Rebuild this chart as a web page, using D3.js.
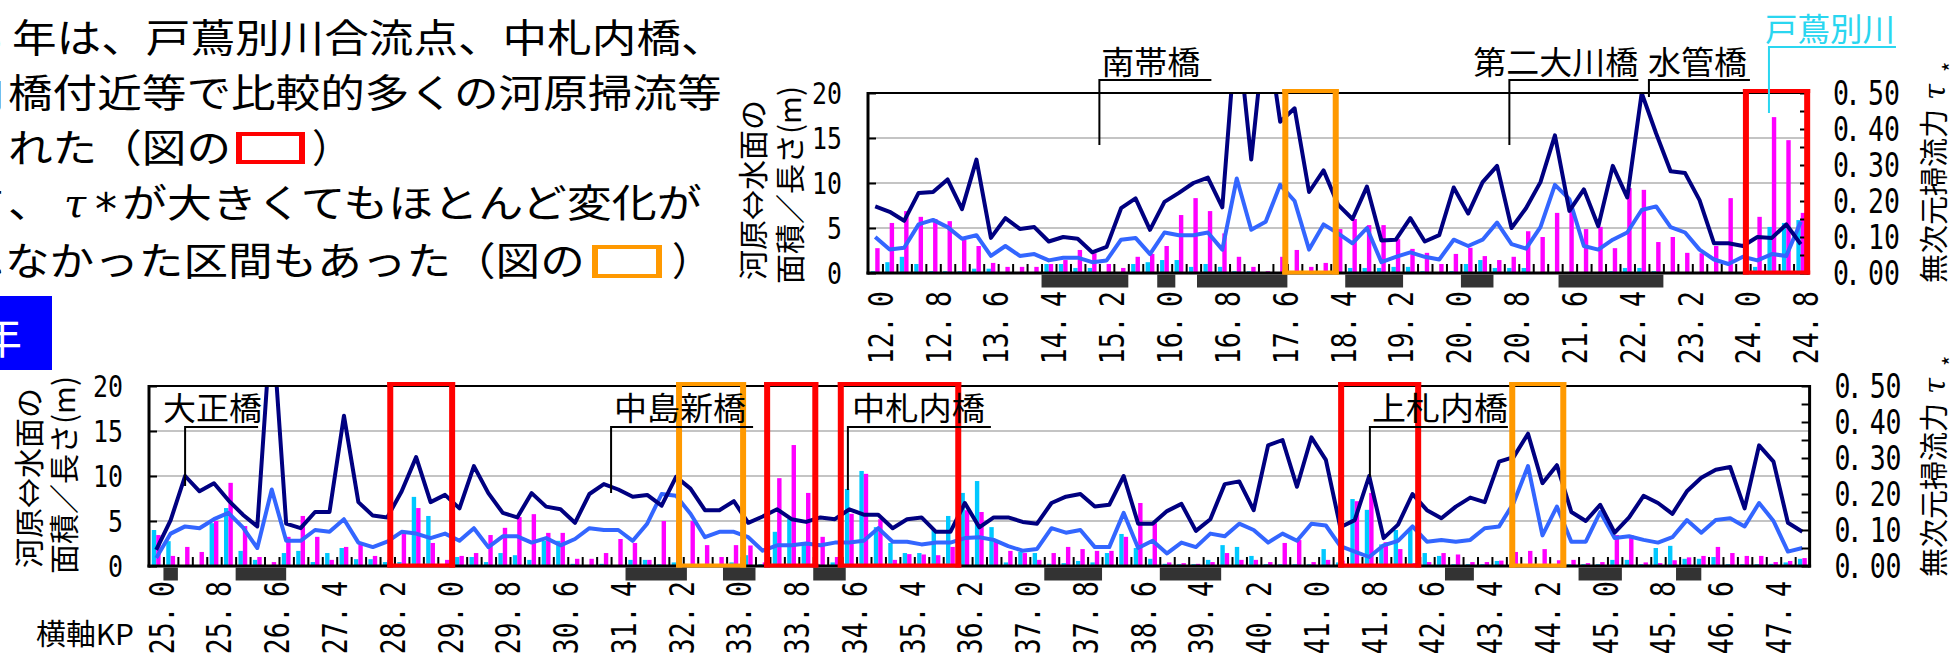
<!DOCTYPE html>
<html lang="ja">
<head>
<meta charset="utf-8">
<title>河原⇔水面の面積／長さ と 無次元掃流力</title>
<script src="https://cdn.jsdelivr.net/npm/d3@7/dist/d3.min.js"></script>
<style>
  html, body { margin: 0; padding: 0; background: #fff; overflow: hidden; }
  svg { display: block; }
</style>
</head>
<body>
<svg id="chart" width="1953" height="653"></svg>
<script>
// ---- categories (KP, 0.2 step) ----
const topKP = d3.range(65).map(i => (12 + i * 0.2).toFixed(1));
const bottomKP = d3.range(115).map(i => (25 + i * 0.2).toFixed(1));

const topTickLabels = ['12.0','12.8','13.6','14.4','15.2','16.0','16.8','17.6','18.4','19.2','20.0','20.8','21.6','22.4','23.2','24.0','24.8'];
const bottomTickLabels = ['25.0','25.8','26.6','27.4','28.2','29.0','29.8','30.6','31.4','32.2','33.0','33.8','34.6','35.4','36.2','37.0','37.8','38.6','39.4','40.2','41.0','41.8','42.6','43.4','44.2','45.0','45.8','46.6','47.4'];

const leftTicks = [0, 5, 10, 15, 20];
const leftTickLabels = ['0', '5', '10', '15', '20'];
const gridValues = [5, 10, 15];
const rightTicks = [0, 0.05, 0.1, 0.15, 0.2, 0.25, 0.3, 0.35, 0.4, 0.45, 0.5];
const rightLabelTicks = [0, 0.1, 0.2, 0.3, 0.4, 0.5];
const rightTickLabels = ['0.00', '0.10', '0.20', '0.30', '0.40', '0.50'];

// ---- upper reach (KP 12.0 - 24.8) ----
// 河原⇔水面の面積／長さ (m)
const topLineNavy = [7.4,6.8,5.8,8.9,9.0,10.4,7.1,12.6,3.9,6.1, 4.9,5.1,3.5,4.0,3.8,2.3,2.9,7.2,8.3,4.8,
  7.9,8.9,10.0,10.6,7.3,28,12.6,28,16.8,18.3, 9.0,11.4,7.6,6.0,9.6,3.6,3.7,6.1,3.5,4.2,
  9.5,6.6,10.1,11.9,5.0,7.2,10.1,15.3,6.9,9.3, 5.2,11.9,8.4,20.0,15.5,11.3,11.1,8.1,3.3,3.3,
  3.0,4.0,3.9,5.4,3.2];
const topLineBlue = [4.0,2.6,2.8,5.4,5.9,5.1,3.8,4.2,1.9,3.0, 1.9,2.1,1.4,1.7,1.7,1.2,1.4,3.7,3.9,2.1,
  4.5,4.2,4.2,4.5,2.6,10.5,4.8,5.7,9.8,8.0, 2.6,5.4,4.4,3.3,5.0,1.2,1.8,2.3,1.8,1.5,
  3.7,3.0,3.7,5.6,3.2,2.7,5.1,9.8,8.2,3.0, 2.6,3.7,4.5,7.0,7.4,5.1,4.5,2.6,1.5,1.0,
  1.8,1.4,2.1,1.9,5.7];
// 無次元掃流力 τ*
const topTauCyan = [0.005,0.03,0.045,0.025,0.005,0.005,0.005,0.012,0.012,0, 0,0,0.025,0.025,0.014,0.014,0,0,0.025,0.03,
  0.036,0.036,0.017,0.025,0.017,0.005,0.005,0,0,0, 0,0,0,0.014,0.014,0.014,0.017,0.017,0.005,0,
  0.005,0.025,0.036,0.014,0.014,0.014,0,0,0,0, 0,0.005,0.014,0.014,0.005,0,0,0,0,0,
  0,0.017,0.128,0.139,0.147];
const topTauMagenta = [0.069,0.139,0.172,0.156,0.15,0.144,0.092,0.075,0.028,0.017, 0.017,0.017,0.025,0.036,0.064,0.055,0.025,0.014,0.045,0.053,
  0.075,0.161,0.208,0.172,0.11,0.045,0.017,0.005,0.045,0.064, 0.017,0.028,0.122,0.15,0.133,0.133,0.094,0.067,0.056,0.025,
  0.053,0.07,0.047,0.036,0.045,0.116,0.1,0.167,0.18,0.122, 0.128,0.069,0.236,0.231,0.086,0.1,0.056,0.055,0.075,0.208,
  0.25,0.156,0.433,0.369,0.167];

// ---- lower reach (KP 25.0 - 47.8) ----
const bottomLineNavy = [1.8,5.1,10.0,8.3,9.2,7.3,5.7,4.4,28,4.7, 4.2,6.0,6.0,16.7,7.1,5.6,5.4,8.3,12.1,7.1,
  7.9,6.4,11.1,8.1,5.9,5.4,8.1,6.6,6.3,4.8, 8.0,9.1,8.5,7.7,7.9,6.7,9.9,8.6,6.2,6.2,
  7.2,4.8,5.5,6.3,5.2,4.9,5.4,5.2,6.3,5.7, 5.7,4.2,5.2,5.4,3.8,3.8,7.0,4.3,5.4,5.4,
  4.9,4.7,7.0,7.7,8.0,6.6,6.8,10.0,4.7,4.7, 6.1,6.9,3.9,5.2,9.1,9.4,6.2,13.4,14.0,8.8,
  14.3,11.8,4.3,5.1,10.0,3.1,4.6,8.0,6.2,5.3, 6.6,7.6,7.1,11.6,12.1,14.7,9.2,11.2,6.0,5.0,
  6.8,3.7,5.4,7.8,7.0,5.8,8.3,9.8,10.7,11.0, 6.4,13.4,11.6,4.8,3.8];
const bottomLineBlue = [0.9,3.6,4.4,4.2,5.2,5.9,4.3,2.0,8.5,2.8, 2.8,4.0,3.8,5.2,2.6,2.1,2.7,3.8,3.6,3.1,
  3.6,2.8,4.2,2.1,3.3,3.3,2.6,3.1,2.3,3.0, 4.2,4.0,4.0,2.8,4.7,8.0,7.8,5.8,3.2,3.8,
  3.8,3.2,1.7,2.3,2.3,2.5,2.3,2.6,2.6,2.8, 4.2,2.7,2.7,2.4,2.6,2.6,3.1,3.2,2.9,2.2,
  1.7,1.9,4.2,3.7,4.0,2.1,2.1,5.9,2.0,2.8, 1.4,2.6,2.1,3.6,3.3,4.7,4.0,2.6,3.6,2.8,
  4.7,4.5,2.2,1.6,1.0,2.3,2.8,4.4,2.7,2.9, 2.7,2.9,4.2,4.4,7.0,11.1,3.4,6.6,2.7,2.7,
  6.0,3.1,3.3,2.9,2.6,3.2,5.1,3.7,5.1,5.3, 4.4,7.0,5.0,1.6,2.0];
const bottomTauCyan = [0.1,0.069,0,0,0.119,0.161,0.042,0.017,0,0.036, 0.042,0.011,0.036,0.05,0.019,0.019,0.011,0.011,0.192,0.139,
  0,0.025,0.025,0.011,0.036,0.03,0.017,0.07,0.07,0.006, 0,0.006,0,0.017,0.017,0.005,0.01,0.005,0.005,0.005,
  0.01,0.03,0.005,0.095,0.131,0.06,0.005,0.01,0.214,0.264, 0.108,0.064,0.036,0.036,0.1,0.139,0.203,0.236,0.108,0.01,
  0.039,0.036,0.006,0.008,0.014,0.01,0.036,0.089,0.05,0.02, 0.006,0.005,0.005,0.017,0.058,0.053,0.028,0.005,0.005,0.005,
  0.005,0.047,0.01,0.186,0.156,0.06,0.1,0.105,0.036,0.028, 0.005,0.005,0.005,0.014,0.005,0.005,0.005,0.005,0.005,0.005,
  0.005,0.017,0.017,0.005,0.05,0.056,0.02,0.02,0.025,0.005, 0.005,0.005,0.006,0.01,0.02];
const bottomTauMagenta = [0.086,0.028,0.053,0.039,0.125,0.231,0.111,0.025,0.011,0.081, 0.139,0.081,0.017,0.053,0.064,0.028,0.017,0.097,0.161,0.064,
  0.017,0.028,0.036,0.086,0.106,0.136,0.144,0.092,0.092,0.02, 0.02,0.036,0.075,0.064,0.017,0.125,0.12,0.125,0.058,0.025,
  0.058,0.057,0.01,0.244,0.336,0.203,0.081,0.025,0.145,0.256, 0.13,0.017,0.033,0.032,0.03,0.053,0.155,0.15,0.068,0.042,
  0.036,0.017,0.036,0.053,0.047,0.042,0.042,0.081,0.175,0.119, 0.01,0.008,0.006,0.011,0.036,0.017,0.017,0.011,0.064,0.072,
  0.011,0.017,0.015,0.18,0.203,0.066,0.047,0.008,0.011,0.036, 0.032,0.011,0.011,0.015,0.039,0.042,0.047,0.016,0.017,0.008,
  0.011,0.086,0.086,0.01,0.008,0.016,0.024,0.028,0.053,0.036, 0.028,0.028,0.011,0.014,0.022];

// reaches marked under the axis (KP from - to)
const topSegments = [[14.3,15.5],[15.9,16.15],[16.45,17.7],[18.5,19.3],[20.1,20.55],[21.45,22.9]];
const bottomSegments = [[25.1,25.3],[26.1,26.8],[31.5,32.35],[32.85,33.3],[34.1,34.55],[37.3,38.1],[38.9,39.75],[42.85,43.25],[44.7,45.3],[46.05,46.4]];

// highlighted reaches (red: much scouring, orange: little change despite large τ*)
const topBoxes = [{color:'orange', kp:[17.63,18.41]}, {color:'red', kp:[24.0,24.93]}];
const bottomBoxes = [
  {color:'red', kp:[28.2,29.14]}, {color:'orange', kp:[32.2,33.17]}, {color:'red', kp:[33.42,34.17]},
  {color:'red', kp:[34.44,36.15]}, {color:'red', kp:[41.37,42.52]}, {color:'orange', kp:[43.74,44.53]}];

// bridges / confluence
const topBridges = [
  {name:'南帯橋', kp:15.1, dx:2, w:99, ext:11, drop:145},
  {name:'第二大川橋', kp:20.77, dx:-36, w:165, ext:0, drop:145},
  {name:'水管橋', kp:22.7, dx:-1, w:99, ext:3, drop:97},
  {name:'戸蔦別川', kp:24.36, dx:-4, w:130, ext:1, drop:113, color:'#2ad6f0', textY:41, lineY:47}
];
const bottomBridges = [
  {name:'大正橋', kp:25.4, dx:-22, w:99, ext:-4, drop:486},
  {name:'中島新橋', kp:31.3, dx:3, w:132, ext:7, drop:493},
  {name:'中札内橋', kp:34.58, dx:4, w:133, ext:6, drop:490},
  {name:'上札内橋', kp:41.81, dx:2, w:136, ext:0, drop:477}
];

const JP = "'Noto Sans CJK JP','Noto Sans CJK SC',sans-serif";
const MONO = "'DejaVu Sans Mono','Liberation Mono',monospace";
const NAVY = '#000080', BLUE = '#3366ff', CYAN = '#00c8ff', MAGENTA = '#ff00ff';
const BOXCOL = {red:'#ff0000', orange:'#ff9900'};

const svg = d3.select('#chart');
svg.append('rect').attr('width', 1953).attr('height', 653).attr('fill', '#fff');
const defs = svg.append('defs');

function frameBox(parent, x0, y0, x1, y1, color, vw, hw) {
  const b = parent.append('g').attr('fill', color);
  b.append('rect').attr('x', x0).attr('y', y0).attr('width', vw).attr('height', y1 - y0);
  b.append('rect').attr('x', x1 - vw).attr('y', y0).attr('width', vw).attr('height', y1 - y0);
  b.append('rect').attr('x', x0).attr('y', y0).attr('width', x1 - x0).attr('height', hw);
  b.append('rect').attr('x', x0).attr('y', y1 - hw).attr('width', x1 - x0).attr('height', hw);
}

function drawPanel(p, idx) {
  const g = svg.append('g');
  const x = d3.scaleBand().domain(p.kps).range([p.left, p.right]).padding(0);
  const bw = x.bandwidth();
  const xc = k => x(k) + bw / 2;
  const n = p.kps.length;
  const xk = d3.scaleLinear().domain([+p.kps[0], +p.kps[n - 1]]).range([xc(p.kps[0]), xc(p.kps[n - 1])]);
  const yL = d3.scaleLinear().domain([0, 20]).range([p.bottom, p.top]);
  const yR = d3.scaleLinear().domain([0, 0.5]).range([p.bottom, p.top]);

  // gridlines
  g.append('g').selectAll('line').data(gridValues).join('line')
    .attr('x1', p.left).attr('x2', p.right)
    .attr('y1', d => yL(d)).attr('y2', d => yL(d))
    .attr('stroke', '#c4c4c4').attr('stroke-width', 2);

  // τ* bars
  const barW = 4.4;
  g.append('g').selectAll('rect').data(p.kps).join('rect')
    .attr('x', k => xc(k) - barW).attr('width', barW)
    .attr('y', (k, i) => yR(p.cyan[i]))
    .attr('height', (k, i) => p.bottom - yR(p.cyan[i]))
    .attr('fill', CYAN);
  g.append('g').selectAll('rect').data(p.kps).join('rect')
    .attr('x', k => xc(k)).attr('width', barW)
    .attr('y', (k, i) => yR(p.magenta[i]))
    .attr('height', (k, i) => p.bottom - yR(p.magenta[i]))
    .attr('fill', MAGENTA);

  // category tick marks between KP sections
  const ta = g.append('g').attr('transform', `translate(0,${p.bottom})`)
    .call(d3.axisBottom(xk).tickValues(p.kps.slice(1).map(k => +k - 0.1)).tickSize(-9).tickFormat(''));
  ta.select('.domain').remove();
  ta.selectAll('line').attr('stroke', '#000').attr('stroke-width', 2);

  // area/length lines
  const clipId = 'plotclip' + idx;
  defs.append('clipPath').attr('id', clipId).append('rect')
    .attr('x', p.left).attr('y', p.top).attr('width', p.right - p.left).attr('height', p.bottom - p.top + 3);
  const line = d3.line().x((d, i) => xc(p.kps[i])).y(d => yL(d));
  const lg = g.append('g').attr('clip-path', `url(#${clipId})`);
  lg.append('path').datum(p.blue).attr('d', line).attr('fill', 'none')
    .attr('stroke', BLUE).attr('stroke-width', 4).attr('stroke-linejoin', 'round');
  lg.append('path').datum(p.navy).attr('d', line).attr('fill', 'none')
    .attr('stroke', NAVY).attr('stroke-width', 4).attr('stroke-linejoin', 'round');

  // plot frame
  g.append('line').attr('x1', p.left).attr('x2', p.right).attr('y1', yL(20)).attr('y2', yL(20))
    .attr('stroke', '#000').attr('stroke-width', 2);
  g.append('line').attr('x1', p.left).attr('x2', p.left).attr('y1', p.top - 1).attr('y2', p.bottom + 1.5)
    .attr('stroke', '#000').attr('stroke-width', 3);
  g.append('line').attr('x1', p.right).attr('x2', p.right).attr('y1', p.top - 1).attr('y2', p.bottom + 1.5)
    .attr('stroke', '#000').attr('stroke-width', 3);
  g.append('line').attr('x1', p.left - 1.5).attr('x2', p.right + 1.5).attr('y1', p.bottom).attr('y2', p.bottom)
    .attr('stroke', '#000').attr('stroke-width', 3);

  // left axis: inward ticks from d3, narrow monospaced labels
  const axL = g.append('g').attr('transform', `translate(${p.left},0)`)
    .call(d3.axisLeft(yL).tickValues(leftTicks).tickSize(-8).tickFormat(''));
  axL.select('.domain').remove();
  axL.selectAll('line').attr('stroke', '#000').attr('stroke-width', 2);
  g.append('g').selectAll('text').data(leftTicks).join('text')
    .attr('transform', d => `translate(${p.left - 26},${yL(d)}) scale(0.83,1)`)
    .attr('text-anchor', 'end').attr('dy', '0.36em')
    .attr('font-family', MONO).attr('font-size', 30).attr('fill', '#000')
    .text((d, i) => leftTickLabels[i]);

  // right axis (τ*)
  const axR = g.append('g').attr('transform', `translate(${p.right},0)`)
    .call(d3.axisRight(yR).tickValues(rightTicks).tickSize(-8).tickFormat(''));
  axR.select('.domain').remove();
  axR.selectAll('line').attr('stroke', '#000').attr('stroke-width', 2);
  const rl = g.append('g').selectAll('text').data(rightLabelTicks).join('text')
    .attr('transform', d => `translate(${p.right + 25},${yR(d)}) scale(0.78,1)`)
    .attr('dy', '0.36em')
    .attr('font-family', MONO).attr('font-size', 34).attr('fill', '#000');
  rl.append('tspan').text((d, i) => rightTickLabels[i].slice(0, 1));
  rl.append('tspan').attr('dx', -5).text((d, i) => rightTickLabels[i].slice(1, 2));
  rl.append('tspan').attr('dx', 9).text((d, i) => rightTickLabels[i].slice(2));

  // KP labels (rotated, reading upward)
  const kl = g.append('g').selectAll('text').data(p.ticks).join('text')
    .attr('transform', d => `translate(${xc(d) + 17.5},${p.labelEnd}) rotate(-90) scale(0.8,1)`)
    .attr('text-anchor', 'end').attr('font-family', MONO).attr('font-size', 33).attr('fill', '#000');
  kl.append('tspan').text(d => d.slice(0, -1));
  kl.append('tspan').attr('dx', 12).text(d => d.slice(-1));

  // reaches marked under the axis
  g.append('g').selectAll('rect').data(p.segments).join('rect')
    .attr('x', d => xk(d[0])).attr('width', d => xk(d[1]) - xk(d[0]))
    .attr('y', p.bottom + 1.5).attr('height', 13).attr('fill', '#333');

  // highlighted reaches
  p.boxes.forEach(b => frameBox(g, xk(b.kp[0]), yL(20) - 4, xk(b.kp[1]), p.bottom + 1.5, BOXCOL[b.color], 6, 4));

  // bridge annotations
  p.bridges.forEach(b => {
    const lx = xk(b.kp);
    const tx = lx + b.dx;
    const ty = b.textY !== undefined ? b.textY : p.bridgeTextY;
    const ly = b.lineY !== undefined ? b.lineY : p.bridgeLineY;
    const col = b.color || '#000';
    g.append('path').attr('d', `M${lx},${b.drop}V${ly}H${tx + b.w + b.ext}`)
      .attr('fill', 'none').attr('stroke', col).attr('stroke-width', 2);
    g.append('text').attr('x', tx).attr('y', ty).attr('font-family', JP).attr('font-size', 32)
      .attr('fill', col).attr('textLength', b.w).attr('lengthAdjust', 'spacingAndGlyphs').text(b.name);
  });

  // axis titles
  g.append('text').attr('transform', `translate(${p.titleA[0]},${p.titleA[1]}) rotate(-90)`)
    .attr('text-anchor', 'middle').attr('font-family', JP).attr('font-size', 30).attr('fill', '#000')
    .text('河原⇔水面の');
  g.append('text').attr('transform', `translate(${p.titleB[0]},${p.titleB[1]}) rotate(-90)`)
    .attr('text-anchor', 'middle').attr('font-family', JP).attr('font-size', 30).attr('fill', '#000')
    .text('面積／長さ(m)');
  const tR = g.append('text').attr('transform', `translate(1945,${p.rTitleBottom}) rotate(-90)`)
    .attr('font-family', JP).attr('font-size', 29).attr('fill', '#000');
  tR.append('tspan').attr('x', 0).text('無次元掃流力');
  tR.append('tspan').attr('x', 183).attr('font-family', "'DejaVu Serif',serif").attr('font-style', 'italic').text('τ');
  tR.append('tspan').attr('x', 211).attr('dy', 14).attr('font-size', 22).text('*');
}

drawPanel({
  kps: topKP, left: 868, right: 1808, top: 93, bottom: 273,
  navy: topLineNavy, blue: topLineBlue, cyan: topTauCyan, magenta: topTauMagenta,
  ticks: topTickLabels, labelEnd: 291, segments: topSegments, boxes: topBoxes,
  bridges: topBridges, bridgeTextY: 74, bridgeLineY: 80,
  titleA: [764, 190], titleB: [801, 185], rTitleBottom: 283
}, 0);

drawPanel({
  kps: bottomKP, left: 149, right: 1809.6, top: 386, bottom: 566,
  navy: bottomLineNavy, blue: bottomLineBlue, cyan: bottomTauCyan, magenta: bottomTauMagenta,
  ticks: bottomTickLabels, labelEnd: 581, segments: bottomSegments, boxes: bottomBoxes,
  bridges: bottomBridges, bridgeTextY: 420, bridgeLineY: 427,
  titleA: [40, 478], titleB: [75, 475], rTitleBottom: 577
}, 1);

// ---- explanatory text ----
const NOTE_FS = 39, NOTE_ADV = 44.6;
function prefix(x, y, s) {
  svg.append('text').attr('x', x).attr('y', y).attr('text-anchor', 'end')
    .attr('font-family', JP).attr('font-size', NOTE_FS).attr('fill', '#000').text(s);
}
function note(x, y, s) {
  svg.append('text').attr('x', x).attr('y', y).attr('font-family', JP).attr('font-size', NOTE_FS)
    .attr('fill', '#000').attr('textLength', s.length * NOTE_ADV).attr('lengthAdjust', 'spacingAndGlyphs').text(s);
}
prefix(2, 52, '令和3'); note(12, 52, '年は、戸蔦別川合流点、中札内橋、');
prefix(4, 107, '上札内'); note(8, 107, '橋付近等で比較的多くの河原掃流等');
prefix(3, 162, 'が見ら'); note(8, 162, 'れた（図の');
frameBox(svg, 236, 132, 305, 164, BOXCOL.red, 6, 4);
svg.append('text').attr('x', 312).attr('y', 162).attr('font-family', JP).attr('font-size', NOTE_FS).text('）');
prefix(3, 217, '一方'); note(8, 217, '、');
svg.append('text').attr('x', 64).attr('y', 217).attr('font-family', "'DejaVu Serif',serif")
  .attr('font-style', 'italic').attr('font-size', 40).text('τ');
svg.append('text').attr('x', 95).attr('y', 225).attr('font-family', "'DejaVu Sans',sans-serif")
  .attr('font-size', 44).text('*');
note(122, 217, 'が大きくてもほとんど変化が');
prefix(2, 275, '見られ'); note(5, 275, 'なかった区間もあった（図の');
frameBox(svg, 592, 245, 662, 278, BOXCOL.orange, 6, 4);
svg.append('text').attr('x', 672).attr('y', 275).attr('font-family', JP).attr('font-size', NOTE_FS).text('）');

// year tag
svg.append('rect').attr('x', 0).attr('y', 296).attr('width', 52).attr('height', 74).attr('fill', '#0000ff');
svg.append('text').attr('x', 22).attr('y', 354).attr('text-anchor', 'end').attr('font-family', JP)
  .attr('font-size', 44).attr('fill', '#fff').text('令和3年');

// horizontal axis caption
svg.append('text').attr('x', 36).attr('y', 645).attr('font-family', JP).attr('font-size', 29)
  .attr('fill', '#000').attr('textLength', 98).attr('lengthAdjust', 'spacingAndGlyphs').text('横軸KP');
</script>
</body>
</html>
